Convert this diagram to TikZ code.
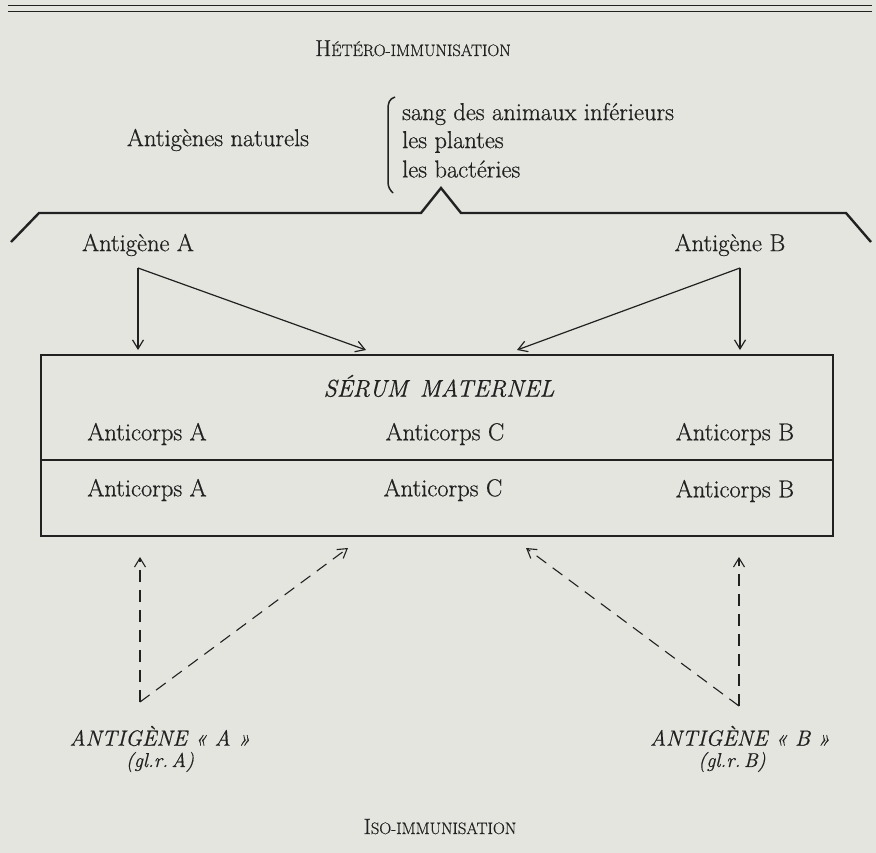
\documentclass[tikz,border=0pt]{standalone}
\usepackage{fontspec}
\setmainfont{Latin Modern Roman}[FakeBold=0.6]
\usetikzlibrary{arrows.meta,calc}
\definecolor{paper}{rgb}{0.894,0.898,0.874}
\definecolor{ink}{rgb}{0.13,0.13,0.13}
\newcommand{\bigsc}[3]{{\fontsize{#3}{24}\selectfont #1}{\fontsize{16.5}{24}\selectfont #2}}
\begin{document}
\begin{tikzpicture}[x=1pt,y=-1pt,
  every node/.style={text=ink,inner sep=0pt},
  txt/.style={font=\fontsize{24.5}{30}\selectfont},
  itxt/.style={font=\fontsize{20}{24}\selectfont\itshape},
  icaps/.style={font=\fontsize{22}{24}\selectfont\itshape},
  heavy/.style={draw=ink,line width=2.4pt},
  arr/.style={draw=ink,line width=1.2pt,-{Straight Barb[length=9pt,width=11pt]}},
  darr/.style={arr,line width=1.1pt,dash pattern=on 12pt off 8pt}]
\fill[paper] (0,0) rectangle (876,853);
\useasboundingbox (0,0) rectangle (876,853);
% top double rule
\draw[ink,line width=1pt] (8,6) -- (872,6);
\draw[ink,line width=1pt] (8,12) -- (872,12);
% titles
\node[anchor=base] (hetero) at (413,56) {\bigsc{H}{ÉTÉRO-IMMUNISATION}{23}};
\node[anchor=base] (iso) at (440,834) {\bigsc{I}{SO-IMMUNISATION}{22}};
% natural antigens
\node[txt] (nat) at (218,140) {Antigènes naturels};
\node[txt,anchor=west] (l1) at (402,114) {sang des animaux inférieurs};
\node[txt,anchor=west] (l2) at (402,142) {les plantes};
\node[txt,anchor=west] (l3) at (402,169) {les bactéries};
\draw[ink,line width=1.5pt] (395,97) .. controls (389,99) and (388,103) .. (388,110) -- (388,182) .. controls (388,187) and (390,190) .. (393,193);
% big brace
\draw[ink,line width=2.4pt,line join=miter] (11,242) -- (39,213) -- (421,213) -- (441,188) -- (461,213) -- (846,213) -- (871,242);
% antigen labels
\node[txt] (agA) at (138,245) {Antigène A};
\node[txt] (agB) at (730,245) {Antigène B};
\coordinate (fA) at (138,268);
\coordinate (fB) at (740,268);
% box
\node[heavy,minimum width=792pt,minimum height=181pt] (box) at (437,445.5) {};
\draw[heavy] ($(box.north west)+(0,106)$) coordinate (dl) -- ($(box.north east)+(0,106)$) coordinate (dr);
\node[font=\fontsize{24}{24}\selectfont\itshape] (serum) at (439,386) {SÉRUM\hspace{0.15em} MATERNEL};
\node[txt] (a1) at (147,434) {Anticorps A};
\node[txt] (c1) at (445,434) {Anticorps C};
\node[txt] (b1) at (735,434) {Anticorps B};
\node[txt] (a2) at (147,490) {Anticorps A};
\node[txt] (c2) at (443,490) {Anticorps C};
\node[txt] (b2) at (735,491) {Anticorps B};
% solid arrows
\coordinate (tA1) at (138,350);
\coordinate (tA2) at (366,350);
\coordinate (tB2) at (517,350);
\coordinate (tB1) at (740,350);
\draw[arr] (fA) -- (tA1);
\draw[arr] (fA) -- (tA2);
\draw[arr] (fB) -- (tB2);
\draw[arr] (fB) -- (tB1);
% iso antigens
\node[icaps] (isoA) at (160,736) {ANTIGÈNE « A »};
\node[itxt] (glA) at (160,762) {(gl.r.\,A)};
\node[icaps] (isoB) at (740,736) {ANTIGÈNE « B »};
\node[itxt] (glB) at (732,762) {(gl.r.\,B)};
\coordinate (vA) at (140,702);
\coordinate (vB) at (739,706);
\coordinate (uA1) at (140,557);
\coordinate (uA2) at (348,548);
\coordinate (uB2) at (526,548);
\coordinate (uB1) at (739,557);
\draw[darr] (vA) -- (uA1);
\draw[darr] (vA) -- (uA2);
\draw[darr] (vB) -- (uB2);
\draw[darr] (vB) -- (uB1);
\end{tikzpicture}
\end{document}
